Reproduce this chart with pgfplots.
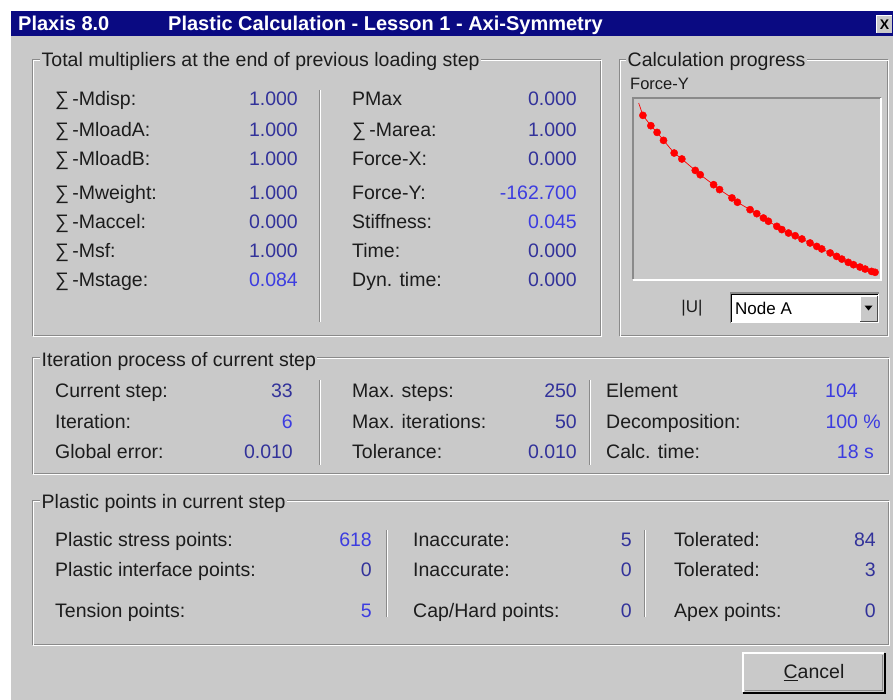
\documentclass[border=0pt]{standalone}
\usepackage{pgfplots}
\pgfplotsset{compat=1.18}
\usepackage{fontspec}
\setmainfont{Liberation Sans}
\definecolor{bg}{HTML}{C9C9C9}
\definecolor{edge}{HTML}{8A8A8A}
\definecolor{navy}{HTML}{0A0A82}
\definecolor{vblue}{HTML}{32329A}
\definecolor{vbright}{HTML}{3C3CE0}
\definecolor{lab}{HTML}{1C1C1C}
\newcommand{\fs}{\fontsize{19.5}{22}\selectfont}
\newcommand{\lbl}[3]{\node[anchor=base west,inner sep=0pt,text=lab,font=\fs] at (#1,-#2-6.5) {#3};}
\newcommand{\val}[4][vblue]{\node[anchor=base east,inner sep=0pt,text=#1,font=\fs] at (#2,-#3-6.5) {#4};}
\newcommand{\etch}[4]{\draw[edge,line width=1pt] (#1,-#2) rectangle (#3,-#4); \draw[white,line width=1pt] (#1+1,-#2-1) rectangle (#3+1,-#4-1);}
\newcommand{\vsep}[3]{\draw[edge,line width=1pt] (#1,-#2)--(#1,-#3); \draw[white,line width=1pt] (#1+1,-#2)--(#1+1,-#3);}
\newcommand{\gtitle}[3]{\node[anchor=base west,fill=bg,inner xsep=1.5pt,inner ysep=1pt,text=lab,font=\fs] at (#1,-#2-6.5) {#3};}
\pgfplotstableread{
u F
0.023 0.972
0.040 0.904
0.072 0.847
0.097 0.810
0.123 0.766
0.166 0.696
0.197 0.663
0.251 0.600
0.271 0.576
0.325 0.521
0.349 0.494
0.399 0.448
0.421 0.424
0.472 0.383
0.499 0.361
0.526 0.337
0.546 0.319
0.580 0.291
0.600 0.273
0.627 0.254
0.654 0.239
0.681 0.221
0.714 0.199
0.741 0.180
0.761 0.166
0.795 0.144
0.821 0.125
0.842 0.110
0.868 0.092
0.889 0.079
0.915 0.066
0.936 0.055
0.962 0.042
0.976 0.037
}\curve
\pgfplotstableread{
u F
0.040 0.904
0.072 0.847
0.097 0.810
0.123 0.766
0.166 0.696
0.197 0.663
0.251 0.600
0.271 0.576
0.325 0.521
0.349 0.494
0.399 0.448
0.421 0.424
0.472 0.383
0.499 0.361
0.526 0.337
0.546 0.319
0.580 0.291
0.600 0.273
0.627 0.254
0.654 0.239
0.681 0.221
0.714 0.199
0.741 0.180
0.761 0.166
0.795 0.144
0.821 0.125
0.842 0.110
0.868 0.092
0.889 0.079
0.915 0.066
0.936 0.055
0.962 0.042
0.976 0.037
}\steps
\begin{document}
\begin{tikzpicture}[x=1pt,y=1pt]
% canvas
\fill[white] (0,0) rectangle (893,-700);
\fill[bg] (11,-11) rectangle (893,-700);
% title bar
\fill[navy] (11,-11) rectangle (893,-36);
\node[anchor=base west,inner sep=0pt,text=white,font=\fontsize{20}{22}\selectfont\bfseries] at (18,-31) {Plaxis 8.0};
\node[anchor=base west,inner sep=0pt,text=white,font=\fontsize{20}{22}\selectfont\bfseries] at (168,-31) {Plastic Calculation - Lesson 1 - Axi-Symmetry};
\fill[bg] (876,-15) rectangle (892,-33);
\draw[white] (876,-33) -- (876,-15) -- (892,-15);
\node[inner sep=0pt,text=black,font=\fontsize{14}{16}\selectfont\bfseries] at (884.5,-24.5) {X};
% group frames
\etch{32}{60}{600}{335}
\etch{619}{60}{887}{335}
\etch{32}{357}{888}{473}
\etch{32}{500}{888}{644}
\gtitle{40}{60}{Total multipliers at the end of previous loading step}
\gtitle{626}{60}{Calculation progress}
\gtitle{40}{360}{Iteration process of current step}
\gtitle{40}{502}{Plastic points in current step}
% group 1
\vsep{319}{90}{322}
\lbl{55}{99}{∑\,-Mdisp:}
\lbl{55}{130}{∑\,-MloadA:}
\lbl{55}{159}{∑\,-MloadB:}
\lbl{55}{193}{∑\,-Mweight:}
\lbl{55}{222}{∑\,-Maccel:}
\lbl{55}{251}{∑\,-Msf:}
\lbl{55}{280}{∑\,-Mstage:}
\val{298}{99}{1.000}
\val{298}{130}{1.000}
\val{298}{159}{1.000}
\val{298}{193}{1.000}
\val{298}{222}{0.000}
\val{298}{251}{1.000}
\val[vbright]{298}{280}{0.084}
\lbl{352}{99}{PMax}
\lbl{352}{130}{∑\,-Marea:}
\lbl{352}{159}{Force-X:}
\lbl{352}{193}{Force-Y:}
\lbl{352}{222}{Stiffness:}
\lbl{352}{251}{Time:}
\lbl{352}{280}{Dyn. time:}
\val{577}{99}{0.000}
\val{577}{130}{1.000}
\val{577}{159}{0.000}
\val[vbright]{577}{193}{-162.700}
\val[vbright]{577}{222}{0.045}
\val{577}{251}{0.000}
\val{577}{280}{0.000}
% group 2
\node[anchor=base west,inner sep=0pt,text=lab,font=\fontsize{16.5}{18}\selectfont] at (630,-90) {Force-Y};
\fill[bg] (633,-98) rectangle (881,-279);
\draw[edge,line width=1.5pt] (633,-279) -- (633,-98) -- (881,-98);
\draw[white,line width=2pt] (633,-280) -- (881,-280) -- (881,-98);
\begin{axis}[at={(633pt,-98pt)}, anchor=north west, width=248pt, height=181pt,
  scale only axis, xmin=0, xmax=1, ymin=0, ymax=1, axis lines=none, clip=true]
\addplot[red, line width=0.7pt, no marks] table[x=u,y=F] {\curve};
\addplot[only marks, mark=*, mark size=3.6pt, red] table[x=u,y=F] {\steps};
\end{axis}
\node[inner sep=0pt,text=lab,font=\fontsize{17}{19}\selectfont] at (692,-308) {|U|};
\fill[white] (730,-293) rectangle (879,-323);
\draw[edge,line width=1pt] (730,-323) -- (730,-293) -- (879,-293);
\draw[black,line width=1pt] (731.5,-322) -- (731.5,-294.5) -- (878,-294.5);
\node[anchor=base west,inner sep=0pt,text=black,font=\fontsize{17}{19}\selectfont] at (735,-314) {Node A};
\fill[bg] (860,-296) rectangle (877,-321);
\draw[white,line width=1pt] (860,-321) -- (860,-296) -- (877,-296);
\draw[black!70,line width=1pt] (860,-321) -- (877,-321) -- (877,-296);
\fill[black] (864.5,-305.5) -- (872.5,-305.5) -- (868.5,-310.5) -- cycle;
% group 3
\vsep{319}{380}{465}
\vsep{589}{380}{465}
\lbl{55}{391}{Current step:}
\lbl{55}{422}{Iteration:}
\lbl{55}{452}{Global error:}
\val{293}{391}{33}
\val[vbright]{293}{422}{6}
\val{293}{452}{0.010}
\lbl{352}{391}{Max. steps:}
\lbl{352}{422}{Max. iterations:}
\lbl{352}{452}{Tolerance:}
\val{577}{391}{250}
\val{577}{422}{50}
\val{577}{452}{0.010}
\lbl{606}{391}{Element}
\lbl{606}{422}{Decomposition:}
\lbl{606}{452}{Calc. time:}
\lbl{825}{391}{\textcolor{vbright}{104}}
\val[vbright]{881}{422}{100 \%}
\val[vbright]{874}{452}{18 s}
% group 4
\vsep{386}{530}{617}
\vsep{644}{530}{617}
\lbl{55}{540}{Plastic stress points:}
\lbl{55}{570}{Plastic interface points:}
\lbl{55}{611}{Tension points:}
\val[vbright]{372}{540}{618}
\val{372}{570}{0}
\val[vbright]{372}{611}{5}
\lbl{413}{540}{Inaccurate:}
\lbl{413}{570}{Inaccurate:}
\lbl{413}{611}{Cap/Hard points:}
\val{632}{540}{5}
\val{632}{570}{0}
\val{632}{611}{0}
\lbl{674}{540}{Tolerated:}
\lbl{674}{570}{Tolerated:}
\lbl{674}{611}{Apex points:}
\val{876}{540}{84}
\val{876}{570}{3}
\val{876}{611}{0}
% cancel button
\fill[bg] (743,-653) rectangle (885,-693);
\draw[white,line width=1.5pt] (743,-692) -- (743,-653) -- (884,-653);
\draw[black,line width=1.5pt] (743,-693) -- (885,-693) -- (885,-653);
\draw[edge,line width=1pt] (745,-690.5) -- (882.5,-690.5) -- (882.5,-655);
\node[inner sep=0pt,text=lab,font=\fs] at (814,-673) {\underline{C}ancel};
\end{tikzpicture}
\end{document}
